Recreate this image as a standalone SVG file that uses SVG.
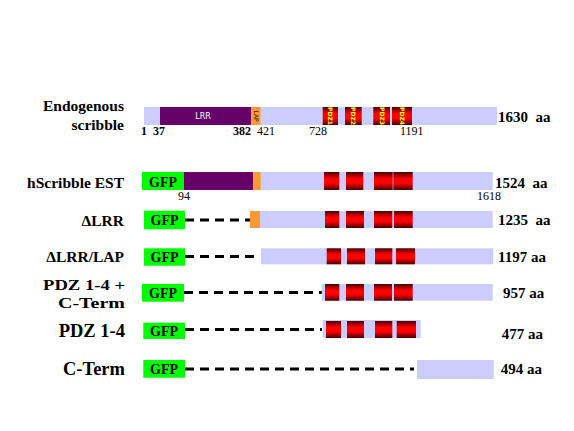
<svg xmlns="http://www.w3.org/2000/svg" width="574" height="431" viewBox="0 0 574 431" font-family="'Liberation Serif', 'Times New Roman', serif">
<defs>
<linearGradient id="pdz" x1="0" y1="0" x2="0" y2="1">
<stop offset="0" stop-color="#4a0000"/>
<stop offset="0.18" stop-color="#a00000"/>
<stop offset="0.38" stop-color="#ff0000"/>
<stop offset="0.62" stop-color="#ff0000"/>
<stop offset="0.82" stop-color="#a00000"/>
<stop offset="1" stop-color="#4a0000"/>
</linearGradient>
<style>
.lab{font-family:'Liberation Serif',serif;font-weight:bold;font-size:15.5px;text-anchor:end;fill:#000;}
.big{font-size:18.5px;}
.aa{font-family:'Liberation Serif',serif;font-weight:bold;font-size:15px;fill:#000;white-space:pre;}
.num{font-family:'Liberation Serif',serif;font-size:12px;fill:#000;}
.numb{font-family:'Liberation Serif',serif;font-size:12px;font-weight:bold;fill:#000;}
.gfp{font-family:'Liberation Serif',serif;font-weight:bold;font-size:14px;text-anchor:middle;fill:#000;}
.lav{fill:#ccccff;}
.lrr{fill:#660066;}
.lap{fill:#ff9933;}
.green{fill:#00ff00;}
.pdz{fill:url(#pdz);}
.dash{stroke:#000;stroke-width:3;stroke-dasharray:9 6;fill:none;}
.pdzt{font-family:'DejaVu Sans',sans-serif;font-size:6px;font-weight:bold;fill:#ffff33;text-anchor:middle;}
</style>
</defs>
<rect width="574" height="431" fill="#fff"/>

<g id="connectors">
<line class="dash" x1="185" y1="220" x2="250" y2="220"/>
<line class="dash" x1="185" y1="256.5" x2="258" y2="256.5"/>
<line class="dash" x1="184" y1="292.5" x2="322" y2="292.5"/>
<line class="dash" x1="185" y1="329.5" x2="322" y2="329.5"/>
<line class="dash" x1="185" y1="369" x2="414" y2="369"/>
</g>

<g id="endogenous">
<text class="lab" x="124" y="111" font-size="16">Endogenous</text>
<text class="lab" x="124" y="130" font-size="16">scribble</text>
<rect class="lav" x="144" y="107" width="353" height="18"/>
<rect class="lrr" x="160" y="107" width="91" height="18"/>
<text x="203" y="119" font-family="'DejaVu Sans',sans-serif" font-size="8" fill="#fff" text-anchor="middle">LRR</text>
<rect class="lap" x="251" y="107" width="9.5" height="18"/>
<text transform="translate(255.8,116) rotate(90)" font-size="6" font-family="'DejaVu Sans',sans-serif" text-anchor="middle" fill="#222" dy="2">LAP</text>
<rect class="pdz" x="322.7" y="107" width="15.3" height="18"/>
<rect class="pdz" x="345" y="107" width="16.7" height="18"/>
<rect class="pdz" x="373.3" y="107" width="16.7" height="18"/>
<rect class="pdz" x="392" y="107" width="20" height="18"/>
<text class="pdzt" transform="translate(330.3,116) rotate(90)" dy="2">PDZ1</text>
<text class="pdzt" transform="translate(353.3,116) rotate(90)" dy="2">PDZ2</text>
<text class="pdzt" transform="translate(381.6,116) rotate(90)" dy="2">PDZ3</text>
<text class="pdzt" transform="translate(402,116) rotate(90)" dy="2">PDZ4</text>
<text class="numb" x="141" y="135">1</text>
<text class="numb" x="153" y="135">37</text>
<text class="numb" x="233" y="135">382</text>
<text class="num" x="257" y="135">421</text>
<text class="num" x="309" y="135">728</text>
<text class="num" x="400" y="135">1191</text>
<text class="aa" x="498" y="122" xml:space="preserve">1630  aa</text>
</g>

<g id="est">
<text class="lab" x="124" y="188">hScribble EST</text>
<rect class="lav" x="184" y="172" width="308.7" height="18"/>
<rect class="lrr" x="184" y="172" width="69" height="18"/>
<rect class="lap" x="253" y="172" width="7.7" height="18"/>
<rect class="green" x="142" y="172" width="42" height="18"/>
<text class="gfp" x="163" y="186.5">GFP</text>
<rect class="pdz" x="324" y="172" width="15.3" height="18"/>
<rect class="pdz" x="346" y="172" width="17.3" height="18"/>
<rect class="pdz" x="374" y="172" width="18.7" height="18"/>
<rect class="pdz" x="393.3" y="172" width="19.4" height="18"/>
<text class="num" x="178" y="200">94</text>
<text class="num" x="477" y="200">1618</text>
<text class="aa" x="495" y="188" xml:space="preserve">1524  aa</text>
</g>

<g id="dlrr">
<text class="lab" x="124" y="226" font-size="16.5">ΔLRR</text>
<rect class="green" x="144" y="210.7" width="41" height="18.6"/>
<text class="gfp" x="164.5" y="225">GFP</text>
<rect class="lav" x="260" y="211" width="232.7" height="17"/>
<rect class="lap" x="250" y="211" width="10" height="17"/>
<rect class="pdz" x="325" y="211" width="14.3" height="17"/>
<rect class="pdz" x="346" y="211" width="18" height="17"/>
<rect class="pdz" x="374" y="211" width="18.3" height="17"/>
<rect class="pdz" x="394" y="211" width="18.7" height="17"/>
<text class="aa" x="498" y="225" xml:space="preserve">1235  aa</text>
</g>

<g id="dlrrlap">
<text class="lab" x="124" y="262" font-size="16.5">ΔLRR/LAP</text>
<rect class="green" x="144" y="248.3" width="41" height="17.4"/>
<text class="gfp" x="164.5" y="262">GFP</text>
<rect class="lav" x="261" y="248.3" width="232.3" height="16"/>
<rect class="pdz" x="326.7" y="248.3" width="14.3" height="16"/>
<rect class="pdz" x="347" y="248.3" width="18" height="16"/>
<rect class="pdz" x="375" y="248.3" width="17.3" height="16"/>
<rect class="pdz" x="396" y="248.3" width="19" height="16"/>
<text class="aa" x="498" y="262">1197 aa</text>
</g>

<g id="pdzcterm">
<text class="lab" x="125" y="290" font-size="16" textLength="82" lengthAdjust="spacingAndGlyphs">PDZ 1-4 +</text>
<text class="lab" x="125" y="307.8" font-size="16" textLength="67" lengthAdjust="spacingAndGlyphs">C-Term</text>
<rect class="green" x="142" y="284" width="42" height="17.7"/>
<text class="gfp" x="163" y="298">GFP</text>
<rect class="lav" x="321.7" y="284" width="171" height="16.7"/>
<rect class="pdz" x="325" y="284" width="14.3" height="16.7"/>
<rect class="pdz" x="346" y="284" width="18" height="16.7"/>
<rect class="pdz" x="374" y="284" width="18" height="16.7"/>
<rect class="pdz" x="394" y="284" width="18.7" height="16.7"/>
<text class="aa" x="503" y="298">957 aa</text>
</g>

<g id="pdz14">
<text class="lab big" x="125" y="337">PDZ 1-4</text>
<rect class="green" x="143.3" y="322.7" width="41.7" height="16.3"/>
<text class="gfp" x="164" y="335.5">GFP</text>
<rect class="lav" x="322.7" y="320" width="98" height="18"/>
<rect class="pdz" x="326" y="321" width="15" height="17"/>
<rect class="pdz" x="347" y="321" width="17" height="17"/>
<rect class="pdz" x="375" y="321" width="17.3" height="17"/>
<rect class="pdz" x="396.7" y="321" width="19.3" height="17"/>
<text class="aa" x="501.7" y="339">477 aa</text>
</g>

<g id="cterm">
<text class="lab big" x="125" y="375">C-Term</text>
<rect class="green" x="143.3" y="360" width="41.7" height="17.7"/>
<text class="gfp" x="164" y="373.5">GFP</text>
<rect class="lav" x="417" y="360" width="76.7" height="19"/>
<text class="aa" x="500.7" y="374">494 aa</text>
</g>
</svg>
